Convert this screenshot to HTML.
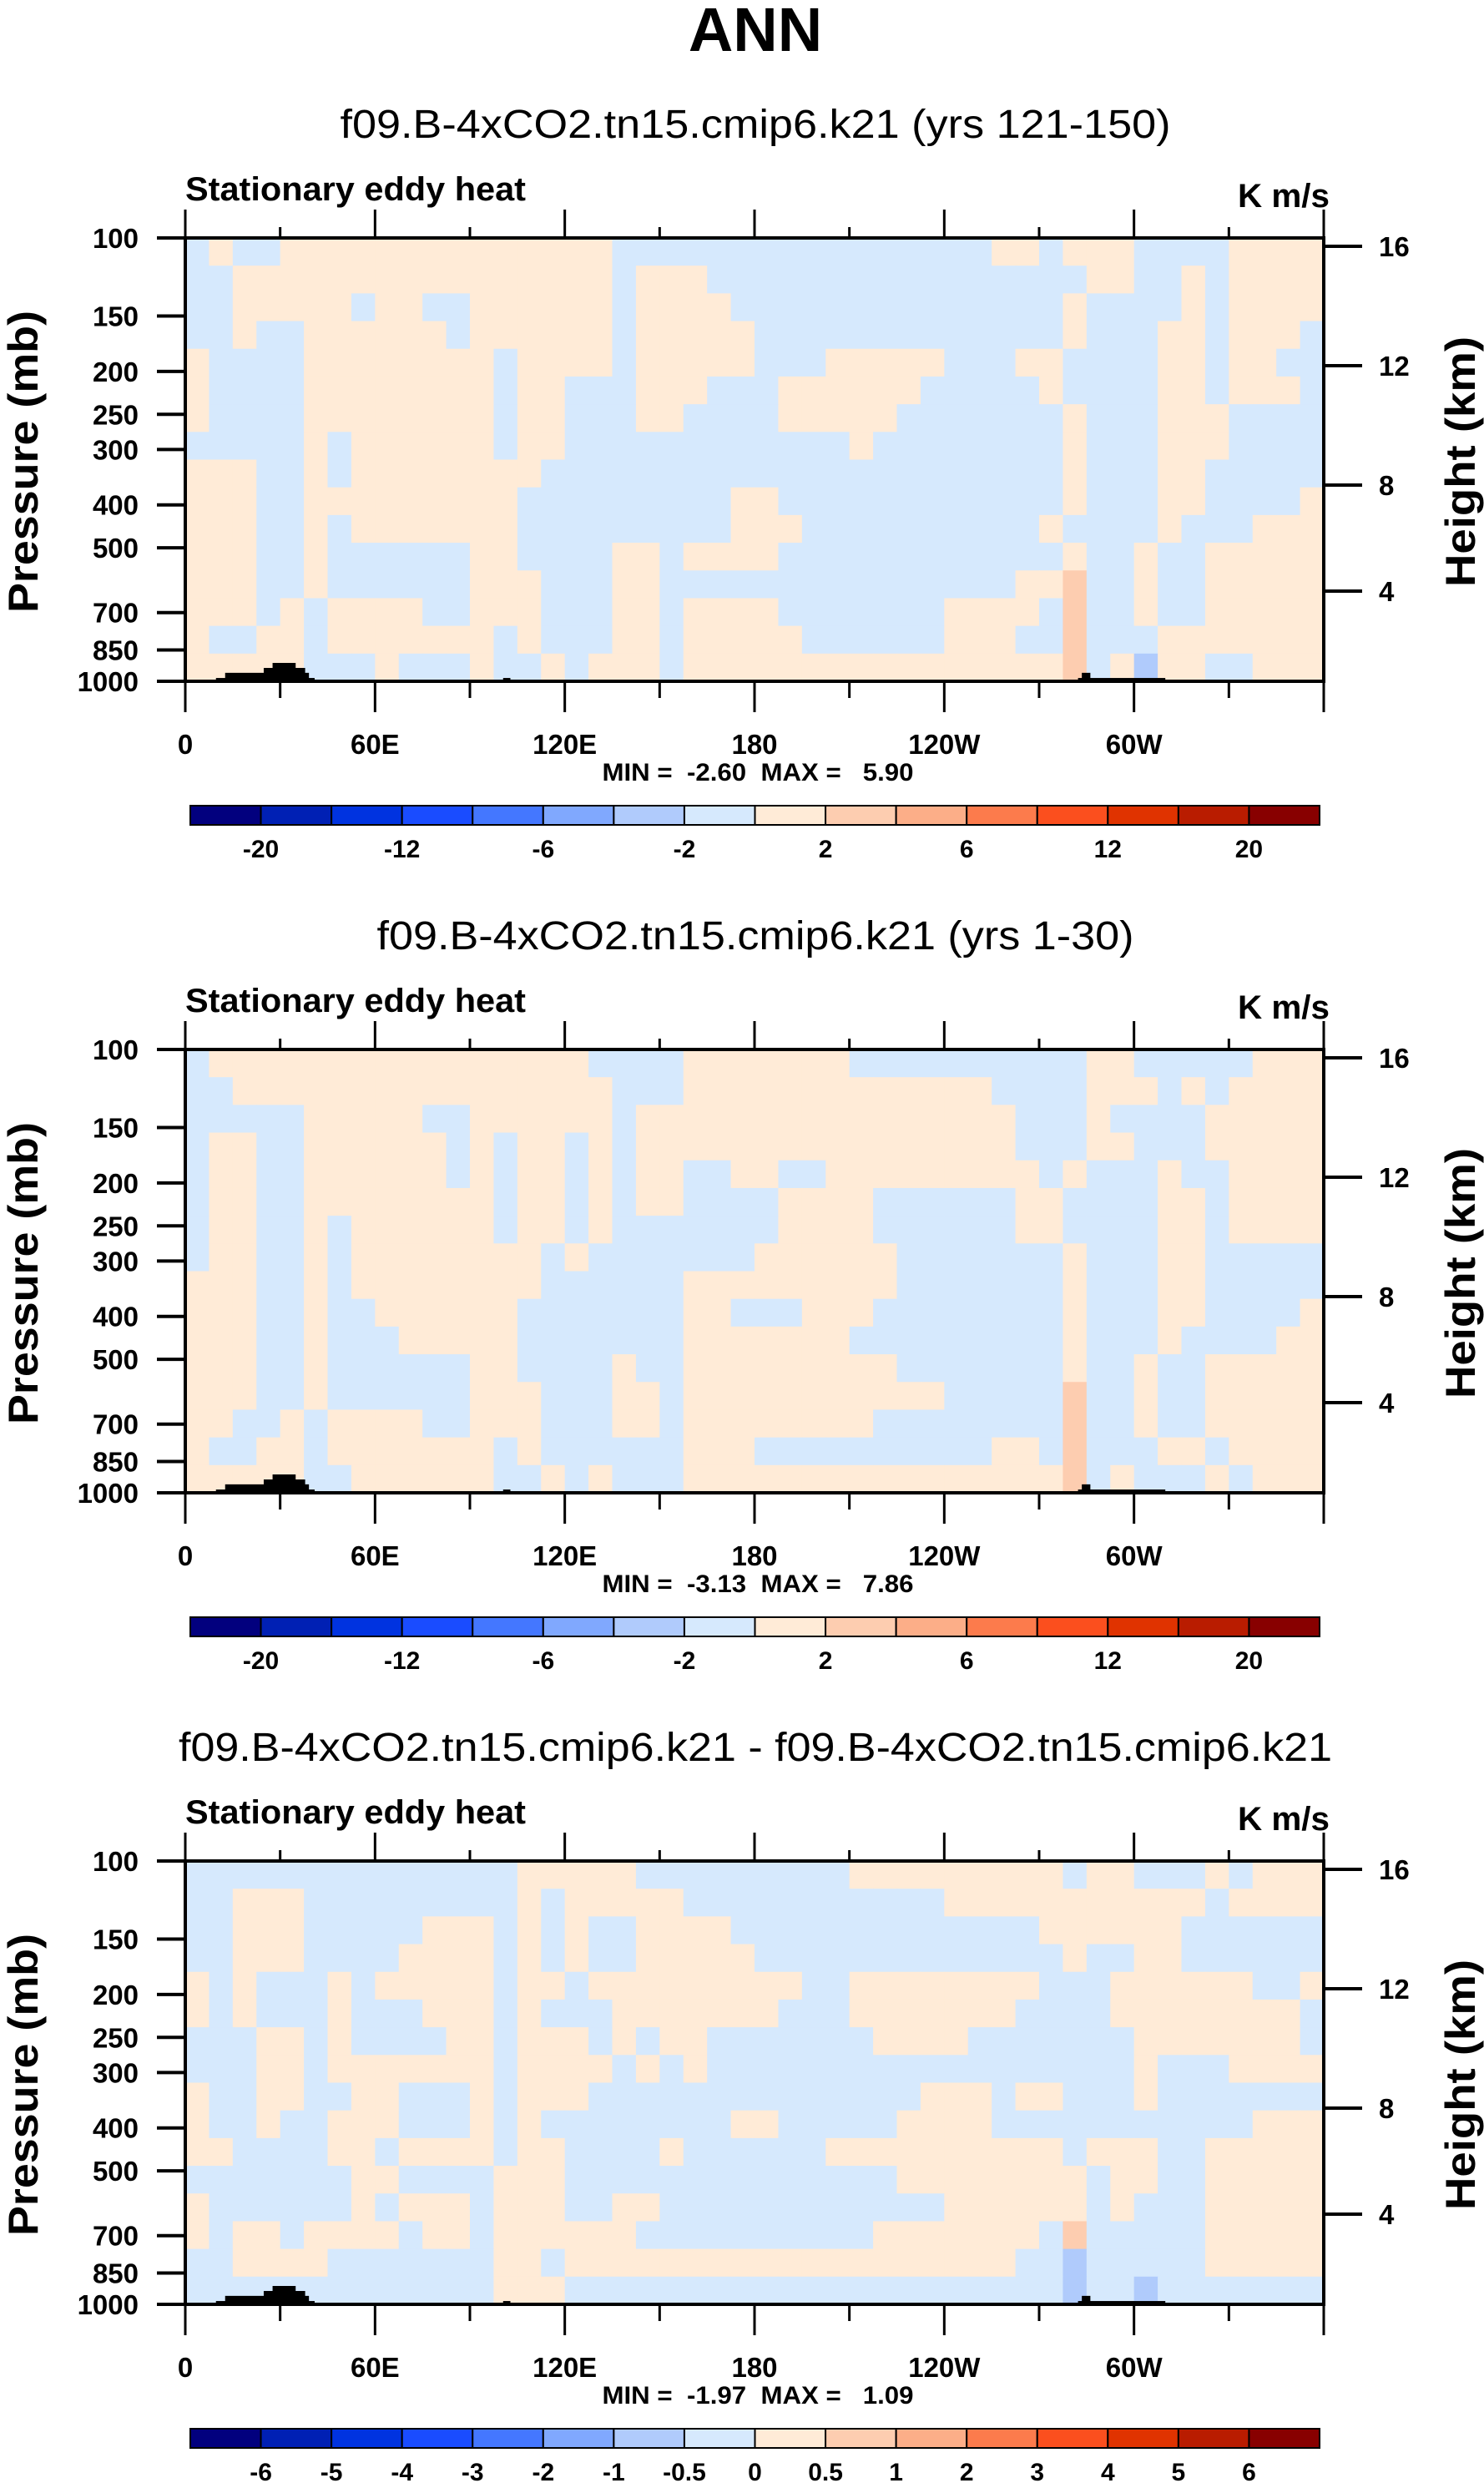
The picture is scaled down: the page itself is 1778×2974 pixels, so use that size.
<!DOCTYPE html>
<html><head><meta charset="utf-8"><style>
html,body{margin:0;padding:0;background:#fff;}
svg{display:block;font-family:"Liberation Sans",Arial,sans-serif;}
.pre{white-space:pre;}
</style></head><body>
<svg id="fig" xmlns="http://www.w3.org/2000/svg" width="1778" height="2974" viewBox="0 0 1778 2974">
<rect x="0" y="0" width="1778" height="2974" fill="#fff"/>
<text x="905" y="61" text-anchor="middle" font-weight="bold" font-size="74">ANN</text>
</svg>
<script>
// ---- data ----
const subtitles = ["f09.B-4xCO2.tn15.cmip6.k21 (yrs 121-150)", "f09.B-4xCO2.tn15.cmip6.k21 (yrs 1-30)", "f09.B-4xCO2.tn15.cmip6.k21 - f09.B-4xCO2.tn15.cmip6.k21"];
const subtitleWidths = [995, 907, 1382];
const minValues = ["-2.60", "-3.13", "-1.97"];
const maxValues = ["5.90", "7.86", "1.09"];
const lonTicks = [0, 60, 120, 180, 240, 300];
const lonLabels = ["0", "60E", "120E", "180", "120W", "60W"];
const pressureTicks = [100, 150, 200, 250, 300, 400, 500, 700, 850, 1000];
const heightTicks = [16, 12, 8, 4];
const heightTickOffsets = [10, 153, 296, 423];
const cbLabelsMain = ["", "-20", "", "-12", "", "-6", "", "-2", "", "2", "", "6", "", "12", "", "20", ""];
const cbLabelsDiff = ["", "-6", "-5", "-4", "-3", "-2", "-1", "-0.5", "0", "0.5", "1", "2", "3", "4", "5", "6", ""];
const cbColors = ["#02007e","#0020b4","#0033e0","#1a4cff","#4477ff","#80a8fe","#b0cbfc","#d6e9fd","#ffebd7","#fdcdb0","#fcae88","#fc7b4c","#fb4f1e","#e03300","#b91c00","#880000"];
const codeValues = {b: -1, p: 1, o: 3, m: -3};
const panel1Rows = [
"b1 p1 b2 p14 b16 p2 b1 p3 b4 p4",
"b2 p16 b1 p3 b16 p2 b2 p1 b1 p4",
"b2 p5 b1 p2 b2 p6 b1 p4 b14 p1 b4 p1 b1 p4",
"b2 p1 b2 p6 b1 p6 b1 p5 b13 p1 b3 p2 b1 p3 b1",
"p1 b4 p8 b1 p4 b1 p5 b3 p5 b3 p2 b4 p2 b1 p2 b2",
"p1 b4 p8 b1 p2 b3 p3 b3 p6 b5 p1 b4 p2 b1 p3 b1",
"p1 b4 p8 b1 p2 b3 p2 b4 p5 b7 p1 b3 p3 b4",
"b5 p1 b1 p6 b1 p2 b12 p1 b8 p1 b3 p3 b4",
"p3 b2 p1 b1 p8 b22 p1 b3 p2 b5",
"p3 b2 p9 b9 p2 b12 p1 b3 p2 b4 p1",
"p3 b2 p1 b1 p7 b9 p3 b10 p1 b4 p1 b3 p3",
"p3 b2 p1 b6 p2 b4 p2 b1 p4 b12 p1 b2 p1 b2 p5",
"p3 b2 p1 b6 p3 b3 p2 b15 p2 o1 b2 p1 b2 p5",
"p3 b1 p1 b1 p4 b2 p3 b3 p2 b1 p4 b7 p4 b1 o1 b2 p1 b2 p5",
"p1 b2 p2 b1 p7 b1 p1 b3 p2 b1 p5 b6 p3 b2 o1 b3 p7",
"p5 b3 p1 b3 p1 b2 p1 b1 p3 b1 p16 o1 b1 p1 m1 p2 b2 p3"];
const panel2Rows = [
"b1 p16 b4 p7 b10 p2 b5 p3",
"b2 p16 b3 p13 b4 p3 b1 p1 b1 p4",
"b5 p5 b2 p6 b1 p16 b3 p1 b4 p5",
"b1 p2 b2 p6 b1 p1 b1 p2 b1 p1 b1 p16 b3 p2 b3 p5",
"b1 p2 b2 p6 b1 p1 b1 p2 b1 p1 b1 p2 b2 p2 b2 p9 b1 p1 b3 p1 b2 p4",
"b1 p2 b2 p8 b1 p2 b1 p1 b1 p2 b4 p4 b6 p2 b4 p2 b1 p4",
"b1 p2 b2 p1 b1 p6 b1 p2 b1 p1 b7 p4 b6 p2 b4 p2 b1 p4",
"b1 p2 b2 p1 b1 p8 b1 p1 b7 p6 b7 p1 b3 p2 b5",
"p3 b2 p1 b1 p8 b6 p9 b7 p1 b3 p2 b5",
"p3 b2 p1 b2 p6 b7 p2 b3 p3 b8 p1 b3 p2 b4 p1",
"p3 b2 p1 b3 p5 b7 p7 b9 p1 b3 p1 b4 p2",
"p3 b2 p1 b6 p2 b4 p1 b2 p9 b7 p1 b2 p1 b2 p5",
"p3 b2 p1 b6 p3 b3 p2 b1 p11 b5 o1 b2 p1 b2 p5",
"p2 b2 p1 b1 p4 b2 p3 b3 p2 b1 p8 b8 o1 b2 p1 b2 p5",
"p1 b2 p2 b1 p7 b1 p1 b6 p3 b10 p2 b1 o1 b3 p2 b1 p4",
"p5 b2 p6 b2 p1 b1 p1 b3 p16 o1 b1 p1 b3 p1 b1 p3"];
const panel3Rows = [
"b14 p5 b9 p9 b1 p2 b3 p1 b1 p3",
"b2 p3 b9 p1 b1 p5 b11 p11 b1 p4",
"b2 p3 b5 p3 b1 p1 b1 p1 b2 p4 b13 p6 b6",
"b2 p3 b4 p4 b1 p1 b1 p1 b2 p5 b13 p1 b2 p2 b6",
"p1 b1 p1 b3 p1 b1 p5 b1 p2 b1 p9 b2 p8 b3 p6 b2 p1",
"p1 b1 p1 b3 p1 b3 p3 b1 p1 b3 p7 b3 p7 b4 p8 b1",
"b3 p2 b1 p1 b4 p2 b1 p3 b1 p1 b1 p2 b7 p4 b7 p7 b1",
"b3 p2 b1 p7 b1 p4 b1 p1 b1 p1 b18 p1 b3 p4",
"p1 b2 p2 b2 p2 b3 p1 b1 p3 b14 p3 b1 p2 b3 p1 b7",
"p1 b2 p1 b2 p3 b3 p1 b1 p1 b8 p2 b5 p4 b11 p3",
"p2 b4 p2 b1 p4 b1 p2 b4 p1 b6 p10 b1 p3 b2 p5",
"b7 p2 b4 p3 b14 p8 b1 p2 b2 p5",
"p1 b6 p1 b1 p3 b1 p3 b2 p2 b12 p6 b1 p1 b3 p5",
"p1 b1 p2 b1 p4 b1 p2 b1 p6 b10 p7 b1 o1 b5 p5",
"b2 p4 b7 p2 b1 p19 b2 m1 b5 p5",
"b13 p3 b21 m1 b2 m1 b7"];
const panelRows = [panel1Rows, panel2Rows, panel3Rows];
// topography blocks: [lonStart, lonEnd, pressureTop]
const topoLon0 = [9.7, 12.6, 24.8, 27.6, 100.5, 282.3, 283.5];
const topoLon1 = [40.9, 39.1, 37.9, 34.9, 102.8, 309.9, 286.2];
const topoPres = [983, 957, 933, 909, 983, 983, 957];

// ---- drawing ----
const NS = "http://www.w3.org/2000/svg";
const svg = document.getElementById("fig");
const L = 222, R = 1586, W = R - L, H = 531;
function mk(tag, attrs, parent) {
  const e = document.createElementNS(NS, tag);
  for (const k in attrs) e.setAttribute(k, attrs[k]);
  (parent || svg).appendChild(e);
  return e;
}
function xOf(lon) { return L + lon / 360 * W; }
function colorOf(v) {
  if (v <= -2) return "#b0cbfc";
  if (v < 0) return "#d6e9fd";
  if (v < 2) return "#ffebd7";
  return "#fdcdb0";
}
function parseRow(s) {
  const out = [];
  s.split(" ").forEach(tok => { const c = tok[0], n = parseInt(tok.slice(1)); for (let i = 0; i < n; i++) out.push(codeValues[c]); });
  return out;
}
for (let p = 0; p < 3; p++) {
  const dy = p * 972, top = 285 + dy, bot = top + H;
  const yOfP = pr => top + Math.log10(pr / 100) * H;
  const g = mk("g", {});
  
  
  const st = mk("text", {x: 905, y: 165 + dy, "text-anchor": "middle", "font-size": 48, textLength: subtitleWidths[p], lengthAdjust: "spacingAndGlyphs"}, g);
  st.textContent = subtitles[p];
  
  
  const lt = mk("text", {x: 222, y: 240 + dy, "font-size": 40, "font-weight": "bold", textLength: 408, lengthAdjust: "spacingAndGlyphs"}, g);
  lt.textContent = "Stationary eddy heat";
  
  
  const ut = mk("text", {x: 1593, y: 248 + dy, "font-size": 40, "font-weight": "bold", "text-anchor": "end", textLength: 110, lengthAdjust: "spacingAndGlyphs"}, g);
  ut.textContent = "K m/s";
  
  
  const field = mk("g", {}, g);
  
  
  const rows = panelRows[p];
  const nr = rows.length;
  rows.forEach((rs, ri) => {
    const vals = parseRow(rs), nc = vals.length;
    vals.forEach((v, ci) => {
      const c = mk("rect", {x: (L + ci * W / nc).toFixed(2), y: (top + ri * H / nr).toFixed(2), width: (W / nc + 0.6).toFixed(2), height: (H / nr + 0.6).toFixed(2), fill: colorOf(v)}, field);
      
      
    });
  });
  for (let i = 0; i < topoLon0.length; i++) {
    const y0 = yOfP(topoPres[i]);
    const t = mk("rect", {x: xOf(topoLon0[i]), y: y0, width: xOf(topoLon1[i]) - xOf(topoLon0[i]), height: bot - y0, fill: "#000"}, g);
    
    
  }
  const fr = mk("rect", {x: L, y: top, width: W, height: H, fill: "none", stroke: "#000", "stroke-width": 4}, g);
  
  
  for (let lon = 0; lon <= 360; lon += 30) {
    const x = xOf(lon), major = lon % 60 === 0;
    mk("line", {x1: x, x2: x, y1: top, y2: top - (major ? 34 : 13), stroke: "#000", "stroke-width": 3}, g);
    mk("line", {x1: x, x2: x, y1: bot, y2: bot + (major ? 37 : 20), stroke: "#000", "stroke-width": 3}, g);
  }
  lonTicks.forEach((lon, i) => {
    const t = mk("text", {x: xOf(lon), y: 903 + dy, "text-anchor": "middle", "font-size": 33, "font-weight": "bold"}, g);
    t.textContent = lonLabels[i];
    
    
  });
  pressureTicks.forEach(pr => {
    const y = yOfP(pr);
    mk("line", {x1: 188, x2: L, y1: y, y2: y, stroke: "#000", "stroke-width": 4}, g);
    const t = mk("text", {x: 166, y: y + 12, "text-anchor": "end", "font-size": 33, "font-weight": "bold"}, g);
    t.textContent = String(pr);
    
    
  });
  heightTicks.forEach((h, i) => {
    const y = top + heightTickOffsets[i];
    mk("line", {x1: R, x2: 1632, y1: y, y2: y, stroke: "#000", "stroke-width": 4}, g);
    const t = mk("text", {x: 1652, y: y + 12, "font-size": 33, "font-weight": "bold"}, g);
    t.textContent = String(h);
    
    
  });
  const yt = mk("text", {x: 0, y: 0, "text-anchor": "middle", "font-size": 50, "font-weight": "bold", transform: `translate(45,${553 + dy}) rotate(-90)`, textLength: 362, lengthAdjust: "spacingAndGlyphs"}, g);
  yt.textContent = "Pressure (mb)";
  
  
  const ht = mk("text", {x: 0, y: 0, "text-anchor": "middle", "font-size": 50, "font-weight": "bold", transform: `translate(1767,${553 + dy}) rotate(-90)`, textLength: 300, lengthAdjust: "spacingAndGlyphs"}, g);
  ht.textContent = "Height (km)";
  
  
  const mm = mk("text", {x: 908, y: 935 + dy, "text-anchor": "middle", "font-size": 30, "font-weight": "bold", "class": "pre", textLength: 373, lengthAdjust: "spacingAndGlyphs"}, g);
  mm.textContent = "MIN =  " + minValues[p] + "  MAX =   " + maxValues[p];
  
  
  const cb = mk("g", {}, g);
  
  
  const cx0 = 228, cx1 = 1581, cw = (cx1 - cx0) / cbColors.length;
  cbColors.forEach((c, i) => {
    const r = mk("rect", {x: cx0 + i * cw, y: 965 + dy, width: cw, height: 23, fill: c, stroke: "#000", "stroke-width": 2}, cb);
    
    
  });
  const labs = p === 2 ? cbLabelsDiff : cbLabelsMain;
  labs.forEach((s, i) => {
    if (!s) return;
    const t = mk("text", {x: cx0 + i * cw, y: 1027 + dy, "text-anchor": "middle", "font-size": 30, "font-weight": "bold"}, cb);
    t.textContent = s;
    
    
  });
}
</script>
</body></html>
